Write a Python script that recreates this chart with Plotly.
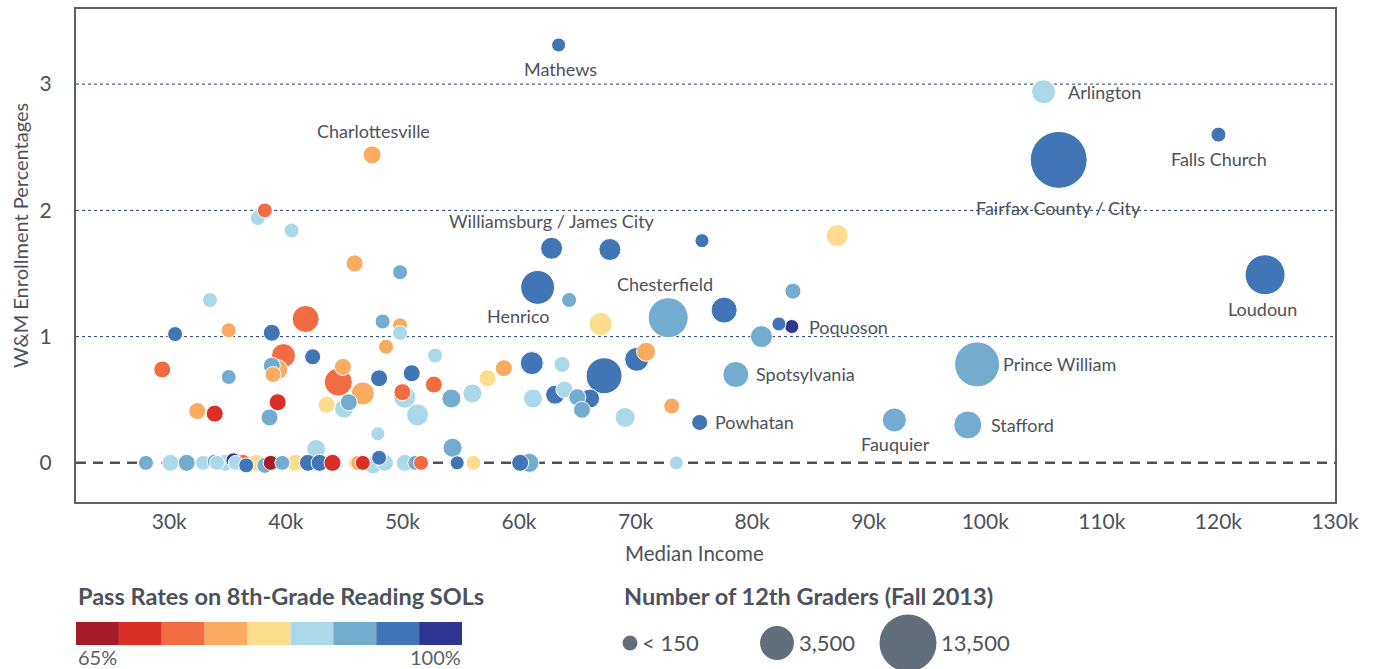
import plotly.graph_objects as go

# ---------------- data ----------------
# income (thousand $), W&M enrollment %, 8th-grade reading pass rate %, number of 12th graders
names = ["Mathews", "Arlington", "Falls Church", "Fairfax County / City", "Charlottesville",
         "Williamsburg / James City", "Henrico", "Chesterfield", "Loudoun", "Poquoson",
         "Prince William", "Spotsylvania", "Powhatan", "Fauquier", "Stafford"]
income_lab = [63.4, 105.0, 120.0, 106.3, 47.4, 62.8, 61.6, 72.8, 124.0, 83.4, 99.3, 78.6, 75.5, 92.2, 98.5]
enroll_lab = [3.31, 2.94, 2.60, 2.40, 2.44, 1.70, 1.39, 1.15, 1.49, 1.08, 0.78, 0.70, 0.32, 0.34, 0.30]
pass_lab = [94, 86, 94, 94, 79, 94, 94, 90, 94, 98, 90, 90, 94, 90, 90]
grad_lab = [100, 1200, 150, 13500, 390, 880, 3500, 5510, 5510, 100, 7500, 1570, 220, 1200, 1990]

income_oth = [
    67.8, 75.7, 87.3, 83.5, 77.6, 82.3, 80.8, 73.1, 73.5,
    49.8, 64.3, 67.0, 49.8, 49.8, 48.6, 52.8, 50.8, 52.7, 50.2, 50.0, 51.3, 54.2, 56.0,
    57.3, 58.7, 61.1, 63.7, 61.2, 63.1, 63.9, 65.0, 65.4, 66.1, 67.3, 70.1, 70.9, 69.1,
    54.3, 47.9,
    37.6, 38.2, 40.5, 45.9, 33.5, 41.7, 30.5, 35.1, 38.8, 48.3, 39.8, 38.8, 39.3, 38.9,
    42.3, 44.9, 44.5, 46.6, 45.4, 45.0, 43.5, 48.0, 29.4, 35.1, 32.4, 33.9, 39.3, 38.6, 42.6,
    28.0, 30.1, 31.5, 32.9, 33.9, 34.1, 34.8, 35.5, 35.7, 36.6, 36.3, 37.5, 38.2, 38.7,
    39.7, 40.8, 41.9, 42.9, 44.0, 46.0, 46.2, 46.6, 47.5, 48.0, 48.5, 50.2, 51.1, 51.6,
    54.7, 56.1, 60.1, 60.9,
]
enroll_oth = [
    1.69, 1.76, 1.80, 1.36, 1.21, 1.10, 1.00, 0.45, 0.00,
    1.51, 1.29, 1.10, 1.09, 1.03, 0.92, 0.85, 0.71, 0.62, 0.52, 0.56, 0.38, 0.51, 0.55,
    0.67, 0.75, 0.79, 0.78, 0.51, 0.54, 0.58, 0.52, 0.42, 0.51, 0.69, 0.82, 0.88, 0.36,
    0.12, 0.23,
    1.94, 2.00, 1.84, 1.58, 1.29, 1.14, 1.02, 1.05, 1.03, 1.12, 0.85, 0.77, 0.74, 0.70,
    0.84, 0.76, 0.64, 0.55, 0.48, 0.43, 0.46, 0.67, 0.74, 0.68, 0.41, 0.39, 0.48, 0.36, 0.11,
    0.00, 0.00, 0.00, 0.00, 0.01, 0.00, 0.00, 0.02, 0.00, -0.02, 0.00, 0.00, -0.02, 0.00,
    0.00, 0.00, 0.00, 0.00, 0.00, 0.00, 0.00, 0.00, -0.02, 0.04, 0.00, 0.00, 0.00, 0.00,
    0.00, 0.00, 0.00, 0.00,
]
pass_oth = [
    94, 94, 83, 90, 94, 94, 90, 79, 86,
    90, 90, 83, 79, 86, 79, 86, 94, 75, 86, 75, 86, 90, 86,
    83, 79, 94, 86, 86, 94, 86, 90, 90, 94, 94, 94, 79, 86,
    90, 86,
    86, 75, 86, 79, 86, 75, 94, 79, 94, 90, 75, 90, 79, 79,
    94, 79, 75, 79, 90, 86, 83, 94, 75, 90, 79, 71, 71, 90, 86,
    90, 86, 90, 86, 90, 86, 86, 98, 86, 94, 75, 83, 90, 67,
    90, 83, 94, 94, 71, 83, 79, 71, 86, 94, 86, 86, 90, 75,
    94, 83, 94, 90,
]
grad_oth = [
    880, 100, 880, 220, 1570, 100, 880, 220, 100,
    150, 150, 1040, 150, 150, 150, 150, 300, 300, 880, 300, 880, 500, 500,
    300, 300, 1040, 220, 500, 500, 300, 300, 300, 500, 4140, 1200, 500, 610,
    500, 100,
    150, 150, 150, 300, 150, 1770, 150, 150, 300, 150, 1200, 300, 610, 220,
    220, 300, 1990, 1040, 300, 500, 300, 300, 300, 150, 300, 300, 300, 300, 500,
    150, 300, 300, 150, 150, 150, 300, 150, 150, 150, 300, 300, 220, 150,
    150, 300, 300, 300, 300, 150, 150, 150, 300, 150, 300, 300, 150, 150,
    100, 150, 300, 500,
]

pass_colors = ["#a51c28", "#da2f27", "#f26c43", "#f9ab5f", "#fcdd8d",
               "#abd9e9", "#74acd0", "#4175b6", "#2f3592"]
pass_min, pass_max = 65, 100
x_ticks = [30, 40, 50, 60, 70, 80, 90, 100, 110, 120, 130]
y_ticks = [0, 1, 2, 3]
size_legend_vals = [150, 3500, 13500]
size_legend_text = ["< 150", "3,500", "13,500"]

# ---------------- helpers ----------------
def diam(n):
    return 10 + 0.404 * n ** 0.5

def pcolor(p):
    k = int((p - pass_min) / ((pass_max - pass_min) / len(pass_colors)))
    return pass_colors[max(0, min(len(pass_colors) - 1, k))]

inc = income_lab + income_oth
enr = enroll_lab + enroll_oth
pr = pass_lab + pass_oth
gr = grad_lab + grad_oth
order = sorted(range(len(inc)), key=lambda i: -diam(gr[i]))

TXT = "#4d525a"
FONT = "Lato"
PL, PR, PT, PB = 76, 1335, 9, 502

def pxx(x):
    return (x - PL) / (PR - PL)

def pyy(y):
    return (PB - y) / (PB - PT)

fig = go.Figure()

# dotted grid lines (not at zero) and dashed zero line
for yv in y_ticks:
    if yv == 0:
        fig.add_shape(type="line", xref="paper", yref="y", x0=0, x1=1, y0=0, y1=0,
                      line=dict(color="#4d525a", width=2.5, dash="10px,7px"), layer="below")
    else:
        fig.add_shape(type="line", xref="paper", yref="y", x0=0, x1=1, y0=yv, y1=yv,
                      line=dict(color="#23406f", width=1, dash="dot"), layer="below")

fig.add_trace(go.Scatter(
    x=[inc[i] for i in order], y=[enr[i] for i in order], mode="markers",
    marker=dict(size=[diam(gr[i]) for i in order], color=[pcolor(pr[i]) for i in order],
                opacity=1, line=dict(color="white", width=1)),
    hoverinfo="skip", showlegend=False, cliponaxis=False,
))

# point labels (offsets in px)
label_pos = {
    "Mathews": (2, -24, "center"), "Arlington": (22, 0, "left"),
    "Falls Church": (1, -24, "center"), "Fairfax County / City": (0, -48, "center"),
    "Charlottesville": (1, 24, "center"), "Williamsburg / James City": (0, 27, "center"),
    "Henrico": (-19, -29, "center"), "Chesterfield": (-3, 34, "center"),
    "Loudoun": (-3, -34, "center"), "Poquoson": (15, 0, "left"),
    "Prince William": (24, 0, "left"), "Spotsylvania": (18, 0, "left"),
    "Powhatan": (13, 0, "left"), "Fauquier": (1, -24, "center"), "Stafford": (21, 0, "left"),
}
for nm, xv, yv in zip(names, income_lab, enroll_lab):
    dx, dy, anc = label_pos[nm]
    fig.add_annotation(x=xv, y=yv, xref="x", yref="y", text=nm, showarrow=False,
                       xshift=dx, yshift=dy, xanchor=anc, yanchor="middle",
                       font=dict(family=FONT, size=18, color=TXT))

# axis titles
fig.add_annotation(x=pxx(694), y=pyy(553), xref="paper", yref="paper", text="Median Income",
                   showarrow=False, xanchor="center", yanchor="middle",
                   font=dict(family=FONT, size=20.5, color=TXT))
fig.add_annotation(x=pxx(20), y=pyy(236), xref="paper", yref="paper",
                   text="W&M Enrollment Percentages", textangle=-90, showarrow=False,
                   xanchor="center", yanchor="middle",
                   font=dict(family=FONT, size=20, color=TXT))

# colour legend
fig.add_annotation(x=pxx(76), y=pyy(596), xref="paper", yref="paper", xanchor="left",
                   yanchor="middle", text="<b>Pass Rates on 8th-Grade Reading SOLs</b>",
                   showarrow=False, font=dict(family=FONT, size=23.5, color=TXT))
bx0, bx1 = 76, 462
bw = (bx1 - bx0) / len(pass_colors)
for k, c in enumerate(pass_colors):
    fig.add_shape(type="rect", xref="paper", yref="paper",
                  x0=pxx(bx0 + k * bw), x1=pxx(bx0 + (k + 1) * bw), y0=pyy(645), y1=pyy(622),
                  line=dict(width=0), fillcolor=c)
fig.add_annotation(x=pxx(76), y=pyy(657), xref="paper", yref="paper", xanchor="left",
                   yanchor="middle", text=f"{pass_min}%", showarrow=False,
                   font=dict(family=FONT, size=20, color="#5a5f66"))
fig.add_annotation(x=pxx(463), y=pyy(657), xref="paper", yref="paper", xanchor="right",
                   yanchor="middle", text=f"{pass_max}%", showarrow=False,
                   font=dict(family=FONT, size=20, color="#5a5f66"))

# size legend
fig.add_annotation(x=pxx(622), y=pyy(596), xref="paper", yref="paper", xanchor="left",
                   yanchor="middle", text="<b>Number of 12th Graders (Fall 2013)</b>",
                   showarrow=False, font=dict(family=FONT, size=23.5, color=TXT))
cx_list = [630, 777, 908]
for cx, v, t in zip(cx_list, size_legend_vals, size_legend_text):
    d = diam(v)
    fig.add_shape(type="circle", xref="paper", yref="paper", xsizemode="pixel", ysizemode="pixel",
                  xanchor=pxx(cx), yanchor=pyy(643), x0=-d / 2, x1=d / 2, y0=-d / 2, y1=d / 2,
                  fillcolor="#636e7b", line=dict(width=0))
    fig.add_annotation(x=pxx(cx + d / 2 + 3), y=pyy(642), xref="paper", yref="paper",
                       xanchor="left", yanchor="middle", text=t, showarrow=False,
                       font=dict(family=FONT, size=22, color=TXT))

fig.update_layout(
    width=1377, height=669, margin=dict(l=PL, r=1377 - PR, t=PT, b=669 - PB, autoexpand=False),
    plot_bgcolor="white", paper_bgcolor="white",
    font=dict(family=FONT, color=TXT),
    xaxis=dict(range=[22, 130], tickvals=x_ticks, ticktext=[f"{v}k" for v in x_ticks],
               showgrid=False, zeroline=False, showline=True, mirror=True,
               linecolor="#5b5f66", linewidth=2, ticks="", automargin=False,
               tickfont=dict(family=FONT, size=21, color=TXT)),
    yaxis=dict(range=[-0.31, 3.595], tickvals=y_ticks, ticktext=[str(v) for v in y_ticks],
               showgrid=False, zeroline=False, showline=True, mirror=True, automargin=False,
               linecolor="#5b5f66", linewidth=2, ticks="outside", ticklen=18,
               tickcolor="rgba(0,0,0,0)", tickfont=dict(family=FONT, size=21, color=TXT)),
)

fig.write_html("out.html", config={"displayModeBar": False},
               post_script="document.body.style.margin='0px';")
